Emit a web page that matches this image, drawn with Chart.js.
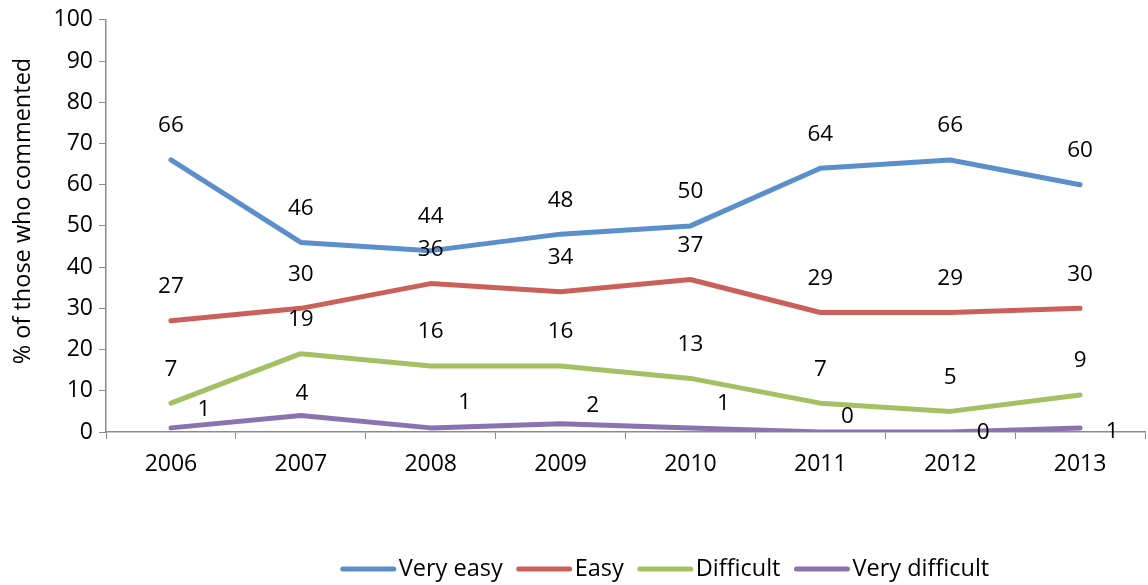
<!DOCTYPE html>
<html lang="en">
<head>
    <meta charset="UTF-8">
    <title>Ease of use by year</title>
    <script src="https://cdn.jsdelivr.net/npm/chart.js"></script>
    <style>
        html, body { margin: 0; padding: 0; background: #ffffff; }
        #chartBox { width: 1148px; height: 585px; }
    </style>
</head>
<body>
    <div id="chartBox">
        <canvas id="easeChart" width="1148" height="585"></canvas>
    </div>

    <script>
        // Values
        const years = ['2006', '2007', '2008', '2009', '2010', '2011', '2012', '2013'];
        const veryEasy = [66, 46, 44, 48, 50, 64, 66, 60];
        const easy = [27, 30, 36, 34, 37, 29, 29, 30];
        const difficult = [7, 19, 16, 16, 13, 7, 5, 9];
        const veryDifficult = [1, 4, 1, 2, 1, 0, 0, 1];
        const seriesNames = ['Very easy', 'Easy', 'Difficult', 'Very difficult'];
        const yTitle = '% of those who commented';

        const FONT = '"Open Sans", "Noto Sans", sans-serif';
        const colors = ['#5B8FCB', '#CB605B', '#A3C163', '#8B73B0'];

        // label placement (pixels from the point); the purple labels were hand-placed in the original
        const labelShift = [
            years.map(() => [0, -34]),
            years.map(() => [0, -34]),
            years.map(() => [0, -34]),
            [[33, -18], [1, -22], [34, -25], [32, -18], [33, -24], [27, -15], [33, 1], [32, 4]]
        ];

        const valueLabels = {
            id: 'valueLabels',
            afterDatasetsDraw(chart) {
                const ctx = chart.ctx;
                ctx.save();
                ctx.font = '22.5px ' + FONT;
                ctx.fillStyle = '#000000';
                ctx.textAlign = 'center';
                ctx.textBaseline = 'middle';
                chart.data.datasets.forEach((ds, i) => {
                    chart.getDatasetMeta(i).data.forEach((pt, j) => {
                        const s = labelShift[i][j];
                        ctx.fillText(String(ds.data[j]), pt.x + s[0], pt.y + s[1]);
                    });
                });
                ctx.restore();
            }
        };

        // y title sits a little above the plot centre in the original, so draw it here
        const sideTitle = {
            id: 'sideTitle',
            afterDraw(chart) {
                const ctx = chart.ctx;
                ctx.save();
                ctx.translate(23, 211);
                ctx.rotate(-Math.PI / 2);
                ctx.font = '23.5px ' + FONT;
                ctx.fillStyle = '#000000';
                ctx.textAlign = 'center';
                ctx.textBaseline = 'middle';
                ctx.fillText(yTitle, 0, 0);
                ctx.restore();
            }
        };

        // legend drawn by hand so it can sit where the original had it
        const bottomLegend = {
            id: 'bottomLegend',
            afterDraw(chart) {
                const ctx = chart.ctx;
                ctx.save();
                ctx.font = '23.5px ' + FONT;
                const lineLen = 55, gapText = 3, gapItem = 14;
                const widths = seriesNames.map(n => ctx.measureText(n).width);
                let total = 0;
                widths.forEach((w, i) => { total += lineLen + gapText + w + (i < widths.length - 1 ? gapItem : 0); });
                let x = 665 - total / 2;
                const y = 569;
                ctx.textBaseline = 'middle';
                ctx.textAlign = 'left';
                seriesNames.forEach((n, i) => {
                    ctx.strokeStyle = colors[i];
                    ctx.lineWidth = 5;
                    ctx.lineCap = 'round';
                    ctx.beginPath();
                    ctx.moveTo(x + 2, y);
                    ctx.lineTo(x + lineLen - 2, y);
                    ctx.stroke();
                    ctx.fillStyle = '#000000';
                    ctx.fillText(n, x + lineLen + gapText, y);
                    x += lineLen + gapText + widths[i] + gapItem;
                });
                ctx.restore();
            }
        };

        const seriesData = [veryEasy, easy, difficult, veryDifficult];

        const config = {
            type: 'line',
            data: {
                labels: years,
                datasets: seriesData.map((d, i) => ({
                    label: seriesNames[i],
                    data: d,
                    borderColor: colors[i],
                    backgroundColor: colors[i],
                    borderWidth: 5,
                    borderCapStyle: 'round',
                    borderJoinStyle: 'round',
                    pointRadius: 0,
                    pointHoverRadius: 0,
                    tension: 0,
                    fill: false
                }))
            },
            options: {
                responsive: false,
                animation: false,
                layout: { padding: { left: 0, top: 17, right: 3, bottom: 0 } },
                plugins: {
                    legend: { display: false },
                    tooltip: { enabled: false }
                },
                scales: {
                    x: {
                        offset: true,
                        afterFit: s => { s.height = 153; },
                        grid: {
                            offset: true,
                            drawOnChartArea: false,
                            drawTicks: true,
                            tickLength: 7,
                            color: '#8C8C8C'
                        },
                        border: { color: '#8C8C8C', width: 1.5 },
                        ticks: {
                            color: '#000000',
                            font: { family: FONT, size: 23 },
                            padding: 12,
                            maxRotation: 0
                        }
                    },
                    y: {
                        min: 0,
                        max: 100,
                        afterFit: s => { s.width = 106; },
                        grid: {
                            drawOnChartArea: false,
                            drawTicks: true,
                            tickLength: 7,
                            color: '#8C8C8C'
                        },
                        border: { color: '#8C8C8C', width: 1.5 },
                        ticks: {
                            stepSize: 10,
                            color: '#000000',
                            font: { family: FONT, size: 23 },
                            padding: 6
                        }
                    }
                }
            },
            plugins: [valueLabels, sideTitle, bottomLegend]
        };

        new Chart(document.getElementById('easeChart'), config);
    </script>
</body>
</html>
